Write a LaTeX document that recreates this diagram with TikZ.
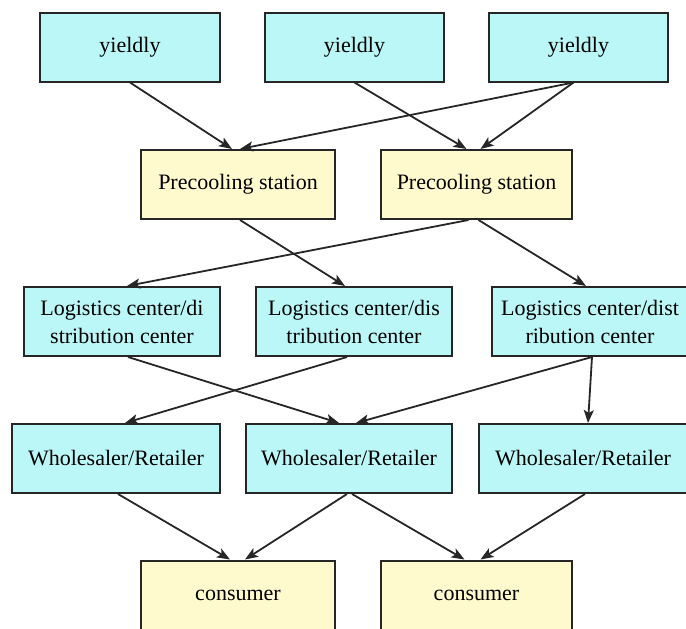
\documentclass[tikz,border=0pt]{standalone}
\usepackage{fontspec}
\setmainfont{Liberation Serif}
\usetikzlibrary{arrows.meta}
\definecolor{cyanbox}{RGB}{188,247,247}
\definecolor{yellowbox}{RGB}{255,250,205}
\definecolor{edgegray}{RGB}{38,38,38}
\tikzset{
  stage/.style={
    shape = rectangle,
    draw = edgegray,
    line width = 2pt,
    minimum height = 69pt,
    inner sep = 0pt,
    align = center,
    font = \fontsize{22}{28}\selectfont
  },
  cyanstage/.style={
    stage,
    fill = cyanbox
  },
  yellowstage/.style={
    stage,
    fill = yellowbox
  },
  flow/.style={
    draw = edgegray,
    line width = 1.8pt,
    -{Stealth[length=13pt,width=10pt,inset=3pt]}
  }
}

\begin{document}
\begin{tikzpicture}[x=1pt,y=-1pt]
    \clip (0,0) rectangle (686,629);

    % origin areas
    \node[cyanstage, minimum width=180pt] (yield1) at (130,47) {yieldly};
    \node[cyanstage, minimum width=179pt] (yield2) at (354.5,47) {yieldly};
    \node[cyanstage, minimum width=179pt] (yield3) at (578.5,47) {yieldly};

    \node[yellowstage, minimum width=194pt] (pre1) at (238,184.5) {Precooling station};
    \node[yellowstage, minimum width=191pt] (pre2) at (476.5,184.5) {Precooling station};

    \node[cyanstage, minimum width=196pt] (lc1) at (122,321.5) {Logistics center/di\\stribution center};
    \node[cyanstage, minimum width=196pt] (lc2) at (354,321.5) {Logistics center/dis\\tribution center};
    \node[cyanstage, minimum width=196pt] (lc3) at (590,321.5) {Logistics center/dist\\ribution center};

    \node[cyanstage, minimum width=208pt] (wr1) at (116,458.5) {Wholesaler/Retailer};
    \node[cyanstage, minimum width=206pt] (wr2) at (349,458.5) {Wholesaler/Retailer};
    \node[cyanstage, minimum width=208pt] (wr3) at (583,458.5) {Wholesaler/Retailer};

    \node[yellowstage, minimum width=194pt] (cons1) at (238,595) {consumer};
    \node[yellowstage, minimum width=191pt] (cons2) at (476.5,595) {consumer};

    % yieldly -> precooling
    \draw[flow] (yield1.south) -- ([xshift=-6pt]pre1.north);
    \draw[flow] ([xshift=-5pt]yield3.south) -- ([xshift=2pt]pre1.north);
    \draw[flow] (yield2.south) -- ([xshift=-10pt]pre2.north);
    \draw[flow] ([xshift=-5pt]yield3.south) -- ([xshift=4pt]pre2.north);

    % precooling -> logistics
    \draw[flow] ([xshift=2pt]pre1.south) -- ([xshift=-9pt]lc2.north);
    \draw[flow] ([xshift=-8pt]pre2.south) -- ([xshift=5pt]lc1.north);
    \draw[flow] ([xshift=2pt]pre2.south) -- ([xshift=-4pt]lc3.north);

    % logistics -> wholesaler
    \draw[flow] ([xshift=6pt]lc1.south) -- ([xshift=-10pt]wr2.north);
    \draw[flow] ([xshift=-7pt]lc2.south) -- ([xshift=9pt]wr1.north);
    \draw[flow] ([xshift=2pt]lc3.south) -- ([xshift=7pt]wr2.north);
    \draw[flow] ([xshift=2pt]lc3.south) -- ([xshift=5pt]wr3.north);

    % wholesaler -> consumer
    \draw[flow] ([xshift=2pt]wr1.south) -- ([xshift=-8pt]cons1.north);
    \draw[flow] ([xshift=-2pt]wr2.south) -- ([xshift=7pt]cons1.north);
    \draw[flow] ([xshift=3pt]wr2.south) -- ([xshift=-12pt]cons2.north);
    \draw[flow] ([xshift=2pt]wr3.south) -- ([xshift=4pt]cons2.north);
\end{tikzpicture}
\end{document}
